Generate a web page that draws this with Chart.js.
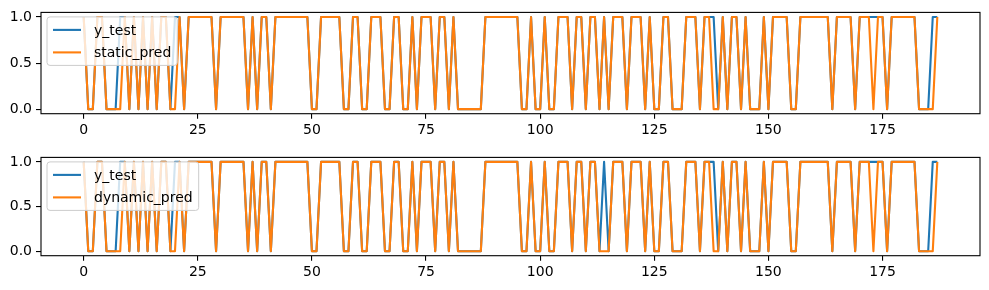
<!DOCTYPE html>
<html>
<head>
<meta charset="utf-8">
<script src="https://cdn.jsdelivr.net/npm/chart.js@4"></script>
<style>
  html, body { margin: 0; padding: 0; background: #fff; }
  #wrap { position: relative; width: 989px; height: 290px; }
  #wrap canvas { position: absolute; left: 0; }
</style>
</head>
<body>
<div id="wrap">
  <canvas id="topChart" width="989" height="145" style="top:0"></canvas>
  <canvas id="bottomChart" width="989" height="145" style="top:145px"></canvas>
</div>
<script>
// test samples, index 0..187
const yTest = [
  1,0,0,1,1,0,0,0,1,1, 0,1,0,1,0,1,0,1,1,0, 1,1,0,1,1,1,1,1,1,0, 1,1,1,1,1,1,0,1,0,1,
  1,0,1,1,1,1,1,1,1,1, 0,0,1,1,1,1,1,0,0,1, 1,0,0,1,1,1,0,0,1,1, 0,0,1,0,1,1,1,0,1,1,
  0,1,0,0,0,0,0,0,1,1, 1,1,1,1,1,1,0,0,1,0, 0,1,0,0,1,1,1,0,1,1, 0,1,1,0,1,0,1,1,1,0,
  1,1,1,0,1,0,0,1,1,0, 0,0,1,1,1,0,1,1,1,0, 1,0,1,1,0,1,0,0,0,1, 0,1,1,1,1,0,0,1,1,1,
  1,1,1,1,0,1,1,1,1,0, 1,1,1,1,1,1,0,1,1,1, 1,1,1,0,0,0,1,1
];
const staticPred = [
  1,0,0,1,1,0,0,0,0,1, 0,1,0,1,0,1,0,1,1,0, 0,1,0,1,1,1,1,1,1,0, 1,1,1,1,1,1,0,1,0,1,
  1,0,1,1,1,1,1,1,1,1, 0,0,1,1,1,1,1,0,0,1, 1,0,0,1,1,1,0,0,1,1, 0,0,1,0,1,1,1,0,1,1,
  0,1,0,0,0,0,0,0,1,1, 1,1,1,1,1,1,0,0,1,0, 0,1,0,0,1,1,1,0,1,1, 0,1,1,0,1,0,1,1,1,0,
  1,1,1,0,1,0,0,1,1,0, 0,0,1,1,1,0,1,1,0,0, 1,0,1,1,0,1,0,0,0,1, 0,1,1,1,1,0,0,1,1,1,
  1,1,1,1,0,1,1,1,1,0, 1,1,1,0,1,1,0,1,1,1, 1,1,1,0,0,0,0,1
];
const dynamicPred = [
  1,0,0,1,1,0,0,0,0,1, 0,1,0,1,0,1,0,1,1,0, 0,1,0,1,1,1,1,1,1,0, 1,1,1,1,1,1,0,1,0,1,
  1,0,1,1,1,1,1,1,1,1, 0,0,1,1,1,1,1,0,0,1, 1,0,0,1,1,1,0,0,1,1, 0,0,1,0,1,1,1,0,1,1,
  0,1,0,0,0,0,0,0,1,1, 1,1,1,1,1,1,0,0,1,0, 0,1,0,0,1,1,1,0,1,1, 0,1,1,0,0,0,1,1,1,0,
  1,1,1,0,1,0,0,1,1,0, 0,0,1,1,1,0,1,1,0,0, 1,0,1,1,0,1,0,0,0,1, 0,1,1,1,1,0,0,1,1,1,
  1,1,1,1,0,1,1,1,1,0, 1,1,1,0,1,1,0,1,1,1, 1,1,1,0,0,0,0,1
];
const xIndex = yTest.map((_, i) => i);
const xTicks = [0, 25, 50, 75, 100, 125, 150, 175];
const yTicks = [0, 0.5, 1];

const BLUE = '#1f77b4';
const ORANGE = '#ff7f0e';
const FONT = "'DejaVu Sans', sans-serif";

Chart.defaults.font.family = FONT;
Chart.defaults.font.size = 14;
Chart.defaults.color = '#000';

// black box round the plot area, like matplotlib spines
const framePlugin = {
  id: 'frame',
  afterDatasetsDraw(chart) {
    const a = chart.chartArea;
    const ctx = chart.ctx;
    ctx.save();
    ctx.strokeStyle = '#000';
    ctx.lineWidth = 1.1;
    ctx.strokeRect(a.left, a.top, a.right - a.left, a.bottom - a.top);
    ctx.restore();
  }
};

// legend box drawn in the upper left corner inside the axes
const legendPlugin = {
  id: 'mplLegend',
  afterDatasetsDraw(chart) {
    const a = chart.chartArea;
    const ctx = chart.ctx;
    const items = chart.data.datasets.map(d => ({ label: d.label, color: d.borderColor }));
    ctx.save();
    ctx.font = '14px ' + FONT;
    const textW = Math.max(...items.map(it => ctx.measureText(it.label).width));
    const x0 = a.left + 6, y0 = a.top + 4.5;
    const w = 47 + textW + 6;
    const h = 48.5;
    ctx.beginPath();
    ctx.roundRect(x0, y0, w, h, 3);
    ctx.fillStyle = 'rgba(255,255,255,0.8)';
    ctx.fill();
    ctx.strokeStyle = '#cccccc';
    ctx.lineWidth = 1;
    ctx.stroke();
    items.forEach((it, k) => {
      const cy = y0 + 13 + k * 22.5;
      ctx.beginPath();
      ctx.moveTo(x0 + 6, cy);
      ctx.lineTo(x0 + 34, cy);
      ctx.strokeStyle = it.color;
      ctx.lineWidth = 2.1;
      ctx.stroke();
      ctx.fillStyle = '#000';
      ctx.textBaseline = 'middle';
      ctx.fillText(it.label, x0 + 47, cy + 1);
    });
    ctx.restore();
  }
};

function makeChart(id, predLabel, predValues, areaTop, areaBottom) {
  const canvas = document.getElementById(id);
  return new Chart(canvas, {
    type: 'line',
    data: {
      labels: xIndex,
      datasets: [
        {
          label: 'y_test',
          data: yTest,
          borderColor: BLUE,
          borderWidth: 2.1,
          pointRadius: 0,
          tension: 0,
          borderJoinStyle: 'round',
          order: 2
        },
        {
          label: predLabel,
          data: predValues,
          borderColor: ORANGE,
          borderWidth: 2.1,
          pointRadius: 0,
          tension: 0,
          borderJoinStyle: 'round',
          order: 1
        }
      ]
    },
    options: {
      responsive: false,
      animation: false,
      devicePixelRatio: 1,
      layout: { padding: { left: 0, right: 9, top: areaTop, bottom: 0 } },
      plugins: {
        legend: { display: false },
        tooltip: { enabled: false }
      },
      scales: {
        x: {
          type: 'linear',
          min: -9.35,
          max: 196.35,
          afterBuildTicks: s => { s.ticks = xTicks.map(v => ({ value: v })); },
          afterFit: s => { s.height = 145 - areaBottom; },
          ticks: { autoSkip: false, maxRotation: 0, padding: 3, callback: v => String(v) },
          grid: { display: true, drawOnChartArea: false, tickLength: 5, color: '#000', lineWidth: 1.1 },
          border: { display: false }
        },
        y: {
          min: -0.05,
          max: 1.05,
          afterBuildTicks: s => { s.ticks = yTicks.map(v => ({ value: v })); },
          afterFit: s => { s.width = 41; },
          ticks: { padding: 4, callback: v => Number(v).toFixed(1) },
          grid: { display: true, drawOnChartArea: false, tickLength: 5, color: '#000', lineWidth: 1.1 },
          border: { display: false }
        }
      }
    },
    plugins: [framePlugin, legendPlugin]
  });
}

makeChart('topChart', 'static_pred', staticPred, 10.3, 113.7);
makeChart('bottomChart', 'dynamic_pred', dynamicPred, 8.4, 110.7);
</script>
</body>
</html>
